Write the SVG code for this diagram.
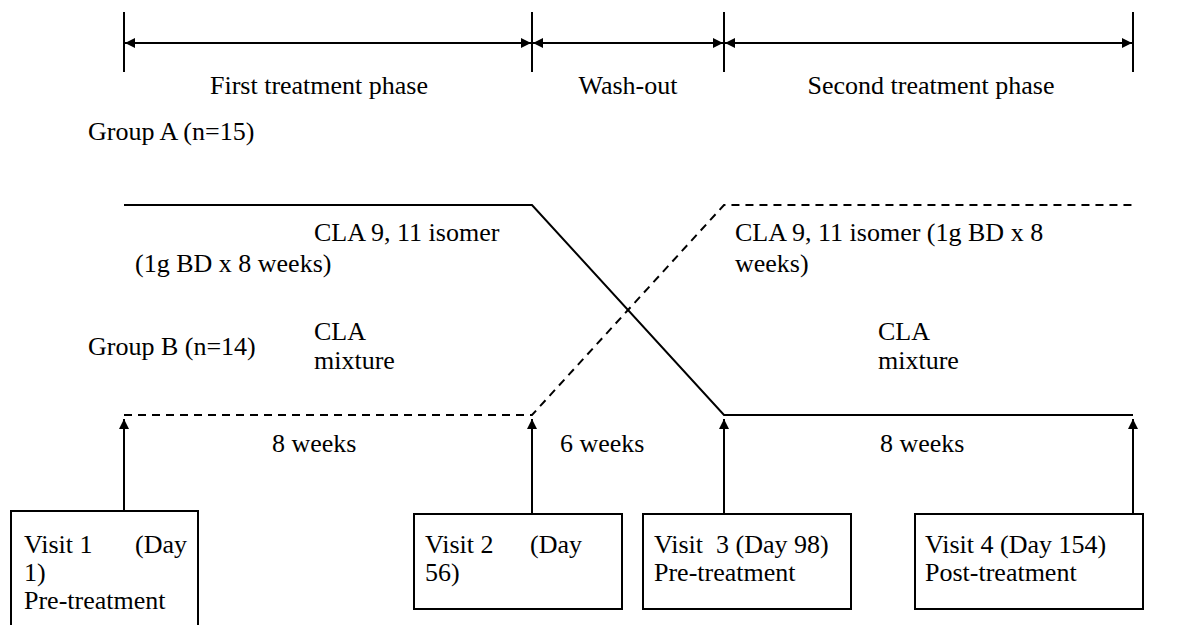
<svg xmlns="http://www.w3.org/2000/svg" width="1204" height="625" viewBox="0 0 1204 625">
<style>
text { font-family: "Liberation Serif", "Times New Roman", serif; font-size: 26px; fill: #000; }
.ln { stroke: #000; stroke-width: 2; fill: none; }
.dash { stroke: #000; stroke-width: 2; fill: none; stroke-dasharray: 8 6; }
.box { stroke: #000; stroke-width: 2; fill: #fff; }
</style>
<defs>
<marker id="ah" viewBox="0 0 10 10" refX="10" refY="5" markerWidth="5" markerHeight="5" orient="auto-start-reverse" markerUnits="strokeWidth">
<path d="M0,0 L10,5 L0,10 z" fill="#000"/>
</marker>
</defs>
<rect width="1204" height="625" fill="#fff"/>
<g id="timeline">
<line class="ln" x1="124" y1="12" x2="124" y2="72"/>
<line class="ln" x1="532" y1="12" x2="532" y2="72"/>
<line class="ln" x1="724" y1="12" x2="724" y2="72"/>
<line class="ln" x1="1133" y1="12" x2="1133" y2="72"/>
<line class="ln" x1="125" y1="43" x2="531" y2="43" marker-start="url(#ah)" marker-end="url(#ah)"/>
<line class="ln" x1="533" y1="43" x2="723" y2="43" marker-start="url(#ah)" marker-end="url(#ah)"/>
<line class="ln" x1="725" y1="43" x2="1132" y2="43" marker-start="url(#ah)" marker-end="url(#ah)"/>
<text x="319" y="94" text-anchor="middle">First treatment phase</text>
<text x="628" y="94" text-anchor="middle">Wash-out</text>
<text x="931" y="94" text-anchor="middle">Second treatment phase</text>
</g>
<g id="labels">
<text x="88" y="140">Group A (n=15)</text>
<text x="88" y="355">Group B (n=14)</text>
<text x="314" y="241">CLA 9, 11 isomer</text>
<text x="135" y="272">(1g BD x 8 weeks)</text>
<text x="735" y="241">CLA 9, 11 isomer (1g BD x 8</text>
<text x="735" y="272">weeks)</text>
<text x="314" y="340">CLA</text>
<text x="314" y="369">mixture</text>
<text x="878" y="340">CLA</text>
<text x="878" y="369">mixture</text>
<text x="272" y="452">8 weeks</text>
<text x="560" y="452">6 weeks</text>
<text x="880" y="452">8 weeks</text>
</g>
<g id="connectors">
<polyline class="ln" points="124,205 532,205 724,415 1133,415"/>
<polyline class="dash" points="124,415 532,415 724,205 1133,205"/>
<line class="ln" x1="124" y1="511" x2="124" y2="419" marker-end="url(#ah)"/>
<line class="ln" x1="532" y1="514" x2="532" y2="419" marker-end="url(#ah)"/>
<line class="ln" x1="724" y1="514" x2="724" y2="419" marker-end="url(#ah)"/>
<line class="ln" x1="1133" y1="514" x2="1133" y2="419" marker-end="url(#ah)"/>
</g>
<g id="visit1">
<rect class="box" x="11" y="511" width="187" height="125"/>
<text x="24" y="553">Visit 1</text>
<text x="135" y="553">(Day</text>
<text x="24" y="581">1)</text>
<text x="24" y="609">Pre-treatment</text>
</g>
<g id="visit2">
<rect class="box" x="414" y="514" width="208" height="95"/>
<text x="425" y="553">Visit 2</text>
<text x="530" y="553">(Day</text>
<text x="425" y="581">56)</text>
</g>
<g id="visit3">
<rect class="box" x="643" y="514" width="208" height="95"/>
<text x="654" y="553" xml:space="preserve">Visit  3 (Day 98)</text>
<text x="654" y="581">Pre-treatment</text>
</g>
<g id="visit4">
<rect class="box" x="915" y="514" width="228" height="95"/>
<text x="925" y="553">Visit 4 (Day 154)</text>
<text x="925" y="581">Post-treatment</text>
</g>
</svg>
